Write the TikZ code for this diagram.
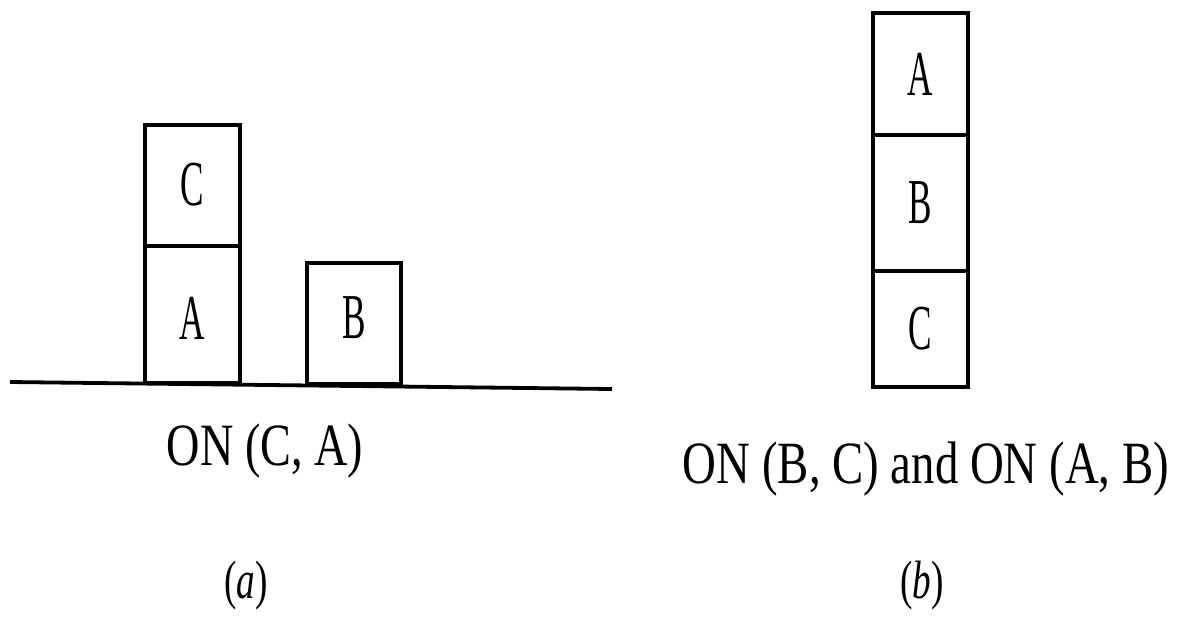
\documentclass[tikz,border=0pt]{standalone}
\usepackage{fontspec}
\setmainfont{Liberation Serif}
\usetikzlibrary{positioning}

\begin{document}
\begin{tikzpicture}[x=0.5pt, y=-0.5pt,
  block/.style={rectangle, draw, line width=1.9pt, outer sep=0pt, inner sep=0pt, minimum width=47.5pt},
  letter/.style={font=\fontsize{32}{38}\selectfont},
  caption/.style={font=\fontsize{30}{36}\selectfont}]
\useasboundingbox (0,0) rectangle (1186,621);
% (a) C on A, B on the table
\node[block, minimum height=68.5pt] (boxA) at (192.5,314.5) {};
\node[block, minimum height=60.5pt, above=0pt of boxA] (boxC) {};
\node[block, minimum width=47pt, minimum height=60.5pt] (boxB) at (354,323.5) {};
\node[letter] (lA) at (192.5,318) {\scalebox{0.55}[1]{A}};
\node[letter] (lC) at (192.5,185) {\scalebox{0.55}[1]{C}};
\node[letter] (lB) at (354,318) {\scalebox{0.55}[1]{B}};
\coordinate (g1) at (10,382);
\coordinate (g2) at (612,389);
\draw[line width=1.9pt] (g1) -- (g2);
\node[caption, anchor=base] (capA) at (265,465) {\scalebox{0.77}[1]{ON (C, A)}};
\node[caption, anchor=base] (tagA) at (246,598) {\scalebox{0.62}[0.9]{(\textit{a})}};
% (b) A on B on C
\node[block, minimum height=58pt] (stC) at (920.5,329) {};
\node[block, minimum height=68pt, above=0pt of stC] (stB) {};
\node[block, minimum height=61pt, above=0pt of stB] (stA) {};
\node[letter] at (stA) {\scalebox{0.55}[1]{A}};
\node[letter] at (stB) {\scalebox{0.55}[1]{B}};
\node[letter] at (stC) {\scalebox{0.55}[1]{C}};
\node[caption, anchor=base] (capB) at (926,483) {\scalebox{0.78}[1]{ON (B, C) and ON (A, B)}};
\node[caption, anchor=base] (tagB) at (922,598) {\scalebox{0.62}[0.9]{(\textit{b})}};
\end{tikzpicture}
\end{document}
